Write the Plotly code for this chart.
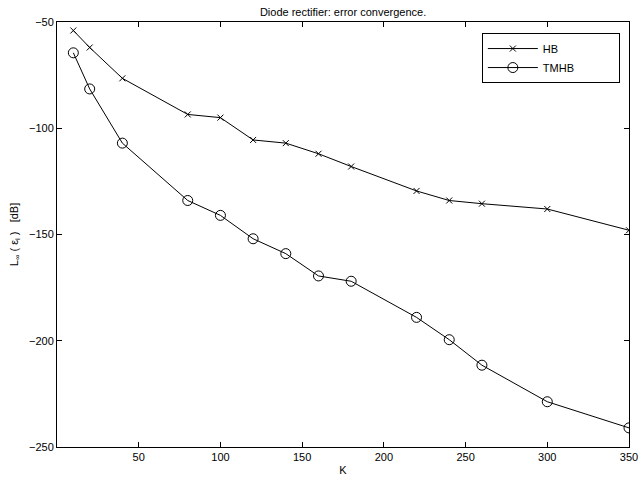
import plotly.graph_objects as go

# Harmonic balance (HB) vs time-mapped HB (TMHB) error for the diode rectifier
K = [10, 20, 40, 80, 100, 120, 140, 160, 180, 220, 240, 260, 300, 350]
hb_err = [-54, -62, -76.5, -93.5, -95, -105.5, -107, -112, -118, -129.5, -134, -135.5, -138, -148]
tmhb_err = [-64.5, -81.5, -107, -134, -141, -152, -159, -169.5, -172, -189, -199.5, -211.5, -228.7, -241]

x_ticks = [50, 100, 150, 200, 250, 300, 350]
y_ticks = [-250, -200, -150, -100, -50]

FONT = "Liberation Sans, Arial, Helvetica, sans-serif"

fig = go.Figure()
fig.add_trace(go.Scatter(
    x=K, y=hb_err, name="HB" + "\u00a0" * 17, mode="lines+markers",
    line=dict(color="black", width=1),
    marker=dict(symbol="x-thin-open", size=6, color="black",
                line=dict(color="black", width=1)),
))
fig.add_trace(go.Scatter(
    x=K, y=tmhb_err, name="TMHB" + "\u00a0" * 13, mode="lines+markers",
    line=dict(color="black", width=1),
    marker=dict(symbol="circle-open", size=10, color="black",
                line=dict(color="black", width=1)),
))

axis_style = dict(
    showline=True, linecolor="black", linewidth=1, mirror="ticks",
    ticks="inside", ticklen=5, tickwidth=1, tickcolor="black",
    showgrid=False, zeroline=False, automargin=False,
    tickfont=dict(family=FONT, size=11, color="black"),
)

fig.update_xaxes(range=[0, 350], tickvals=x_ticks,
                 title=dict(text="K", font=dict(family=FONT, size=11, color="black"), standoff=4),
                 **axis_style)
fig.update_yaxes(range=[-250, -50], tickvals=y_ticks,
                 title=dict(text="L<sub>∞</sub> ( ε<sub>i</sub> )   [dB]",
                            font=dict(family=FONT, size=11, color="black"), standoff=8),
                 **axis_style)

fig.update_layout(
    width=640, height=481,
    margin=dict(l=57, r=11, t=22, b=34),
    paper_bgcolor="white", plot_bgcolor="white",
    font=dict(family=FONT, size=11, color="black"),
    title=dict(text="Diode rectifier: error convergence.", x=0.536, xanchor="center",
               y=0.975, yanchor="middle", font=dict(family=FONT, size=11, color="black")),
    legend=dict(x=0.984, y=0.974, xanchor="right", yanchor="top",
                bgcolor="white", bordercolor="black", borderwidth=1,
                itemwidth=50, font=dict(family=FONT, size=11, color="black"),
                tracegroupgap=0),
    showlegend=True,
)

fig.write_html("out.html")
